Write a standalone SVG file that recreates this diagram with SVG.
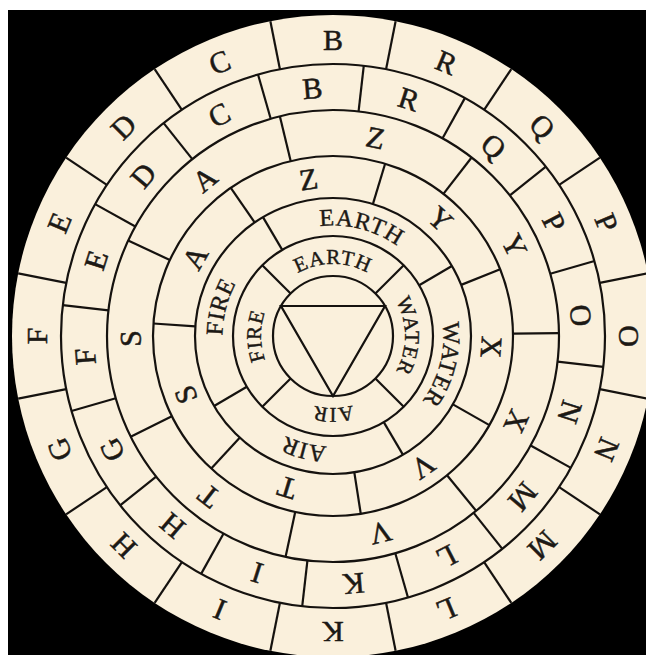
<svg xmlns="http://www.w3.org/2000/svg" width="646" height="655" viewBox="0 0 646 655">
<style>
.ring{fill:none;stroke:#15120f;stroke-width:2.2}
.dv{stroke:#15120f;stroke-width:2.2}
.L{font-family:"Liberation Serif","DejaVu Serif",serif;font-size:30px;fill:#1c1915;stroke:#1c1915;stroke-width:0.5;text-anchor:middle;dominant-baseline:central}
.W1{font-family:"Liberation Serif","DejaVu Serif",serif;font-size:24px;fill:#1c1915;stroke:#1c1915;stroke-width:0.4;text-anchor:middle;letter-spacing:0.8px}
.W2{font-family:"Liberation Serif","DejaVu Serif",serif;font-size:21px;fill:#1c1915;stroke:#1c1915;stroke-width:0.4;text-anchor:middle;letter-spacing:1px}
</style>
<defs>
<line id="d1" class="dv" x1="333" y1="15" x2="333" y2="64"/>
<line id="d2" class="dv" x1="333" y1="64" x2="333" y2="110"/>
<line id="d3" class="dv" x1="333" y1="110" x2="333" y2="156"/>
<line id="d4" class="dv" x1="333" y1="156" x2="333" y2="198"/>
<line id="d5" class="dv" x1="333" y1="198" x2="333" y2="236"/>
<line id="d6" class="dv" x1="333" y1="236" x2="333" y2="276"/>
<path id="a5" d="M 222.5 336 A 110.5 110.5 0 0 1 443.5 336"/>
<path id="a6" d="M 261 336 A 72 72 0 0 1 405 336"/>
</defs>
<rect width="646" height="655" fill="#ffffff"/>
<rect x="8" y="10" width="638" height="645" fill="#000000"/>
<g id="disc">
<circle cx="333" cy="336" r="321" fill="#FAF0DC"/>
<circle class="ring" cx="333" cy="336" r="272"/>
<circle class="ring" cx="333" cy="336" r="226"/>
<circle class="ring" cx="333" cy="336" r="180"/>
<circle class="ring" cx="333" cy="336" r="138"/>
<circle class="ring" cx="333" cy="336" r="100"/>
<circle class="ring" cx="333" cy="336" r="60"/>
<polygon class="ring" points="281,306 385,306 333,396"/>
</g>
<g id="dividers">
<use href="#d1" transform="rotate(11.25 333 336)"/><use href="#d1" transform="rotate(33.75 333 336)"/><use href="#d1" transform="rotate(56.25 333 336)"/><use href="#d1" transform="rotate(78.75 333 336)"/>
<use href="#d1" transform="rotate(101.25 333 336)"/><use href="#d1" transform="rotate(123.75 333 336)"/><use href="#d1" transform="rotate(146.25 333 336)"/><use href="#d1" transform="rotate(168.75 333 336)"/>
<use href="#d1" transform="rotate(191.25 333 336)"/><use href="#d1" transform="rotate(213.75 333 336)"/><use href="#d1" transform="rotate(236.25 333 336)"/><use href="#d1" transform="rotate(258.75 333 336)"/>
<use href="#d1" transform="rotate(281.25 333 336)"/><use href="#d1" transform="rotate(303.75 333 336)"/><use href="#d1" transform="rotate(326.25 333 336)"/><use href="#d1" transform="rotate(348.75 333 336)"/>
<use href="#d2" transform="rotate(6.5 333 336)"/><use href="#d2" transform="rotate(29 333 336)"/><use href="#d2" transform="rotate(51.5 333 336)"/><use href="#d2" transform="rotate(74 333 336)"/>
<use href="#d2" transform="rotate(96.5 333 336)"/><use href="#d2" transform="rotate(119 333 336)"/><use href="#d2" transform="rotate(141.5 333 336)"/><use href="#d2" transform="rotate(164 333 336)"/>
<use href="#d2" transform="rotate(186.5 333 336)"/><use href="#d2" transform="rotate(209 333 336)"/><use href="#d2" transform="rotate(231.5 333 336)"/><use href="#d2" transform="rotate(254 333 336)"/>
<use href="#d2" transform="rotate(276.5 333 336)"/><use href="#d2" transform="rotate(299 333 336)"/><use href="#d2" transform="rotate(321.5 333 336)"/><use href="#d2" transform="rotate(344 333 336)"/>
<use href="#d3" transform="rotate(-13.6 333 336)"/><use href="#d3" transform="rotate(37.83 333 336)"/><use href="#d3" transform="rotate(89.26 333 336)"/><use href="#d3" transform="rotate(140.69 333 336)"/>
<use href="#d3" transform="rotate(192.12 333 336)"/><use href="#d3" transform="rotate(243.55 333 336)"/><use href="#d3" transform="rotate(294.98 333 336)"/>
<use href="#d4" transform="rotate(-34.6 333 336)"/><use href="#d4" transform="rotate(16.83 333 336)"/><use href="#d4" transform="rotate(68.26 333 336)"/><use href="#d4" transform="rotate(119.69 333 336)"/>
<use href="#d4" transform="rotate(171.12 333 336)"/><use href="#d4" transform="rotate(222.55 333 336)"/><use href="#d4" transform="rotate(273.98 333 336)"/>
<use href="#d5" transform="rotate(59.5 333 336)"/><use href="#d5" transform="rotate(149.5 333 336)"/><use href="#d5" transform="rotate(239.5 333 336)"/><use href="#d5" transform="rotate(329.5 333 336)"/>
<use href="#d6" transform="rotate(45 333 336)"/><use href="#d6" transform="rotate(135 333 336)"/><use href="#d6" transform="rotate(225 333 336)"/><use href="#d6" transform="rotate(315 333 336)"/>
</g>
<g id="ring1">
<text class="L" x="333" y="39.5" transform="rotate(0 333 336)">B</text>
<text class="L" x="333" y="39.5" transform="rotate(22.5 333 336)">R</text>
<text class="L" x="333" y="39.5" transform="rotate(45 333 336)">Q</text>
<text class="L" x="333" y="39.5" transform="rotate(67.5 333 336)">P</text>
<text class="L" x="333" y="39.5" transform="rotate(90 333 336)">O</text>
<text class="L" x="333" y="39.5" transform="rotate(112.5 333 336)">N</text>
<text class="L" x="333" y="39.5" transform="rotate(135 333 336)">M</text>
<text class="L" x="333" y="39.5" transform="rotate(157.5 333 336)">L</text>
<text class="L" x="333" y="39.5" transform="rotate(180 333 336)">K</text>
<text class="L" x="333" y="39.5" transform="rotate(202.5 333 336)">I</text>
<text class="L" x="333" y="39.5" transform="rotate(225 333 336)">H</text>
<text class="L" x="333" y="39.5" transform="rotate(247.5 333 336)">G</text>
<text class="L" x="333" y="39.5" transform="rotate(270 333 336)">F</text>
<text class="L" x="333" y="39.5" transform="rotate(292.5 333 336)">E</text>
<text class="L" x="333" y="39.5" transform="rotate(315 333 336)">D</text>
<text class="L" x="333" y="39.5" transform="rotate(337.5 333 336)">C</text>
</g>
<g id="ring2">
<text class="L" x="333" y="87" transform="rotate(-4.75 333 336)">B</text>
<text class="L" x="333" y="87" transform="rotate(17.75 333 336)">R</text>
<text class="L" x="333" y="87" transform="rotate(40.25 333 336)">Q</text>
<text class="L" x="333" y="87" transform="rotate(62.75 333 336)">P</text>
<text class="L" x="333" y="87" transform="rotate(85.25 333 336)">O</text>
<text class="L" x="333" y="87" transform="rotate(107.75 333 336)">N</text>
<text class="L" x="333" y="87" transform="rotate(130.25 333 336)">M</text>
<text class="L" x="333" y="87" transform="rotate(152.75 333 336)">L</text>
<text class="L" x="333" y="87" transform="rotate(175.25 333 336)">K</text>
<text class="L" x="333" y="87" transform="rotate(197.75 333 336)">I</text>
<text class="L" x="333" y="87" transform="rotate(220.25 333 336)">H</text>
<text class="L" x="333" y="87" transform="rotate(242.75 333 336)">G</text>
<text class="L" x="333" y="87" transform="rotate(265.25 333 336)">F</text>
<text class="L" x="333" y="87" transform="rotate(287.75 333 336)">E</text>
<text class="L" x="333" y="87" transform="rotate(310.25 333 336)">D</text>
<text class="L" x="333" y="87" transform="rotate(332.75 333 336)">C</text>
</g>
<g id="ring3">
<text class="L" x="333" y="133" transform="rotate(12.1 333 336)">Z</text>
<text class="L" x="333" y="133" transform="rotate(63.53 333 336)">Y</text>
<text class="L" x="333" y="133" transform="rotate(114.96 333 336)">X</text>
<text class="L" x="333" y="133" transform="rotate(166.39 333 336)">V</text>
<text class="L" x="333" y="133" transform="rotate(217.82 333 336)">T</text>
<text class="L" x="333" y="133" transform="rotate(269.25 333 336)">S</text>
<text class="L" x="333" y="133" transform="rotate(320.68 333 336)">A</text>
</g>
<g id="ring4">
<text class="L" x="333" y="177" transform="rotate(-8.9 333 336)">Z</text>
<text class="L" x="333" y="177" transform="rotate(42.53 333 336)">Y</text>
<text class="L" x="333" y="177" transform="rotate(93.96 333 336)">X</text>
<text class="L" x="333" y="177" transform="rotate(145.39 333 336)">V</text>
<text class="L" x="333" y="177" transform="rotate(196.82 333 336)">T</text>
<text class="L" x="333" y="177" transform="rotate(248.25 333 336)">S</text>
<text class="L" x="333" y="177" transform="rotate(299.68 333 336)">A</text>
</g>
<g id="ring5">
<text class="W1" transform="rotate(14.5 333 336)"><textPath href="#a5" startOffset="50%">EARTH</textPath></text>
<text class="W1" transform="rotate(104.5 333 336)"><textPath href="#a5" startOffset="50%">WATER</textPath></text>
<text class="W1" transform="rotate(194.5 333 336)"><textPath href="#a5" startOffset="50%">AIR</textPath></text>
<text class="W1" transform="rotate(284.5 333 336)"><textPath href="#a5" startOffset="50%">FIRE</textPath></text>
</g>
<g id="ring6">
<text class="W2" transform="rotate(0 333 336)"><textPath href="#a6" startOffset="50%">EARTH</textPath></text>
<text class="W2" transform="rotate(90 333 336)"><textPath href="#a6" startOffset="50%">WATER</textPath></text>
<text class="W2" transform="rotate(180 333 336)"><textPath href="#a6" startOffset="50%">AIR</textPath></text>
<text class="W2" transform="rotate(270 333 336)"><textPath href="#a6" startOffset="50%">FIRE</textPath></text>
</g>
</svg>
